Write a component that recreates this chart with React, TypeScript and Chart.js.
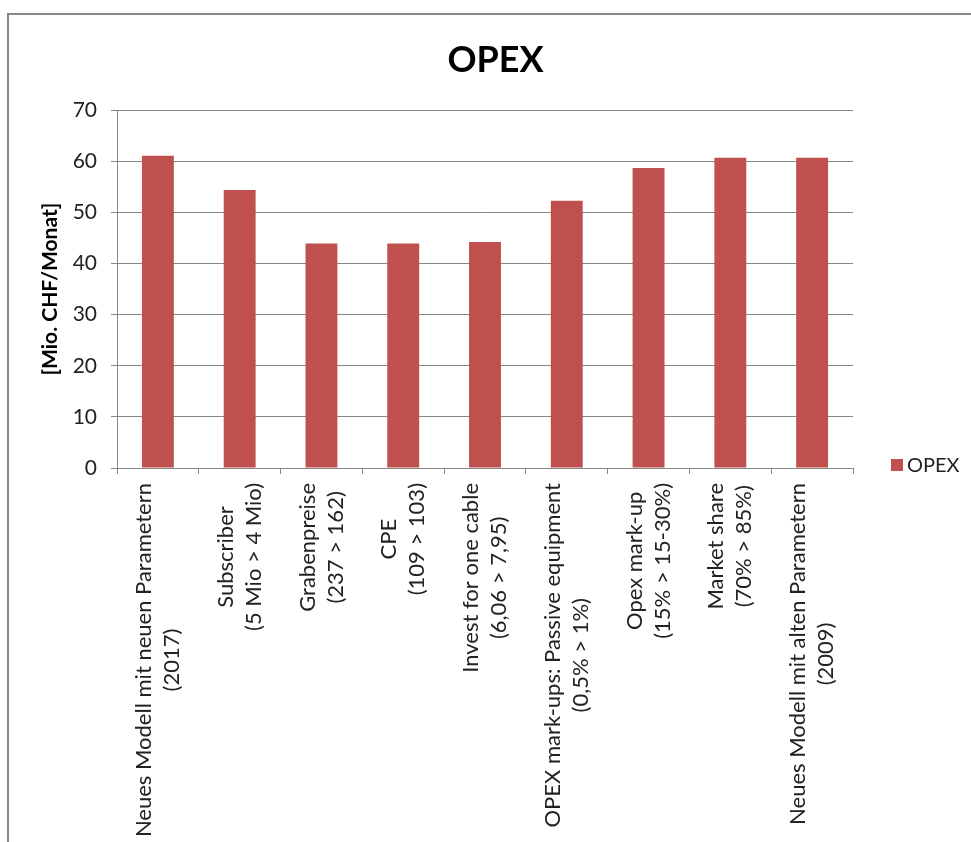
import React, { useEffect, useRef } from "react";
import { Chart, registerables } from "chart.js";

Chart.register(...registerables);

const categories: string[][] = [
  ["Neues Modell mit neuen Parametern", "(2017)"],
  ["Subscriber", "(5 Mio > 4 Mio)"],
  ["Grabenpreise", "(237 > 162)"],
  ["CPE", "(109 > 103)"],
  ["Invest for one cable", "(6,06 > 7,95)"],
  ["OPEX mark-ups: Passive equipment", "(0,5% > 1%)"],
  ["Opex mark-up", "(15% > 15-30%)"],
  ["Market share", "(70% > 85%)"],
  ["Neues Modell mit alten Parametern", "(2009)"],
];
const opexValues: number[] = [61.1, 54.4, 43.9, 43.9, 44.2, 52.3, 58.7, 60.7, 60.7];
const seriesName = "OPEX";
const chartTitle = "OPEX";
const yAxisTitle = "[Mio. CHF/Monat]";
const yMin = 0;
const yMax = 70;
const yStep = 10;

const FONT = "Lato, 'Open Sans', sans-serif";
const GRID = "#878787";
const TEXT = "#222222";
const BAR = "#C0504D";

const catLabelPlugin = {
  id: "catLabels",
  afterDraw(chart: any) {
    const scale = chart.scales.x;
    const ctx = chart.ctx;
    const fontSize = 22;
    const lh = 28;
    ctx.save();
    ctx.font = `${fontSize}px ${FONT}`;
    ctx.fillStyle = TEXT;
    ctx.textAlign = "center";
    ctx.textBaseline = "middle";
    categories.forEach((lines, i) => {
      const x = scale.getPixelForTick(i);
      const maxW = Math.max(...lines.map((l) => ctx.measureText(l).width));
      const startY = scale.top + 15;
      ctx.save();
      ctx.translate(x, startY + maxW / 2);
      ctx.rotate(-Math.PI / 2);
      lines.forEach((line, j) => {
        ctx.fillText(line, 0, (j - (lines.length - 1) / 2) * lh);
      });
      ctx.restore();
    });
    ctx.restore();
  },
};

const legendPlugin = {
  id: "sideLegend",
  afterDraw(chart: any) {
    const ctx = chart.ctx;
    const area = chart.chartArea;
    const ds = chart.data.datasets[0];
    const bx = area.right + 38;
    const cy = area.bottom - 3;
    ctx.save();
    ctx.fillStyle = ds.backgroundColor;
    ctx.fillRect(bx, cy - 6, 12, 12);
    ctx.font = `20px ${FONT}`;
    ctx.fillStyle = TEXT;
    ctx.textAlign = "left";
    ctx.textBaseline = "middle";
    ctx.fillText(ds.label, bx + 16, cy + 1);
    ctx.restore();
  },
};

export default function App() {
  const canvasRef = useRef<HTMLCanvasElement | null>(null);

  useEffect(() => {
    if (!canvasRef.current) return;
    const chart = new Chart(canvasRef.current, {
      type: "bar",
      data: {
        labels: categories.map((c) => c.join(" ")),
        datasets: [
          {
            label: seriesName,
            data: opexValues,
            backgroundColor: BAR,
            borderWidth: 0,
            barPercentage: 0.39,
            categoryPercentage: 1,
            yAxisID: "y",
          },
        ],
      },
      options: {
        animation: false,
        responsive: true,
        maintainAspectRatio: false,
        layout: { padding: { left: 20, right: 10, top: 0, bottom: 368 } },
        plugins: {
          title: {
            display: true,
            text: chartTitle,
            color: "#000",
            font: { family: FONT, size: 36, weight: "bold" },
            padding: { top: 23, bottom: 28 },
          },
          legend: { display: false },
          tooltip: { enabled: false },
        },
        scales: {
          x: {
            ticks: { display: false },
            grid: {
              display: true,
              drawOnChartArea: false,
              drawTicks: true,
              tickLength: 6,
              color: GRID,
              offset: true,
            },
            border: { display: true, color: GRID, width: 1 },
          },
          y: {
            min: yMin,
            max: yMax,
            ticks: {
              stepSize: yStep,
              color: TEXT,
              font: { family: FONT, size: 21 },
              padding: 14,
            },
            grid: { color: GRID, tickLength: 6, lineWidth: 1 },
            border: { display: true, color: GRID, width: 1 },
            title: {
              display: true,
              text: yAxisTitle,
              color: "#000",
              font: { family: FONT, size: 21, weight: "bold" },
              padding: { top: 8, bottom: 10 },
            },
            afterFit(scale: any) {
              scale.width = 87;
            },
          },
          y2: {
            position: "right",
            display: true,
            min: yMin,
            max: yMax,
            ticks: { display: false },
            grid: { display: false },
            border: { display: false },
            afterFit(scale: any) {
              scale.width = 108;
            },
          },
        },
      },
      plugins: [catLabelPlugin, legendPlugin],
    });
    return () => chart.destroy();
  }, []);

  return (
    <div
      style={{
        position: "fixed",
        left: 0,
        top: 0,
        width: 971,
        height: 842,
        overflow: "hidden",
        background: "#fff",
      }}
    >
      <div
        style={{
          position: "absolute",
          left: 7,
          top: 13,
          right: -20,
          bottom: -20,
          border: "2px solid #878787",
        }}
      />
      <div style={{ position: "absolute", left: 10, top: 16, width: 961, height: 826 }}>
        <canvas ref={canvasRef} />
      </div>
    </div>
  );
}
